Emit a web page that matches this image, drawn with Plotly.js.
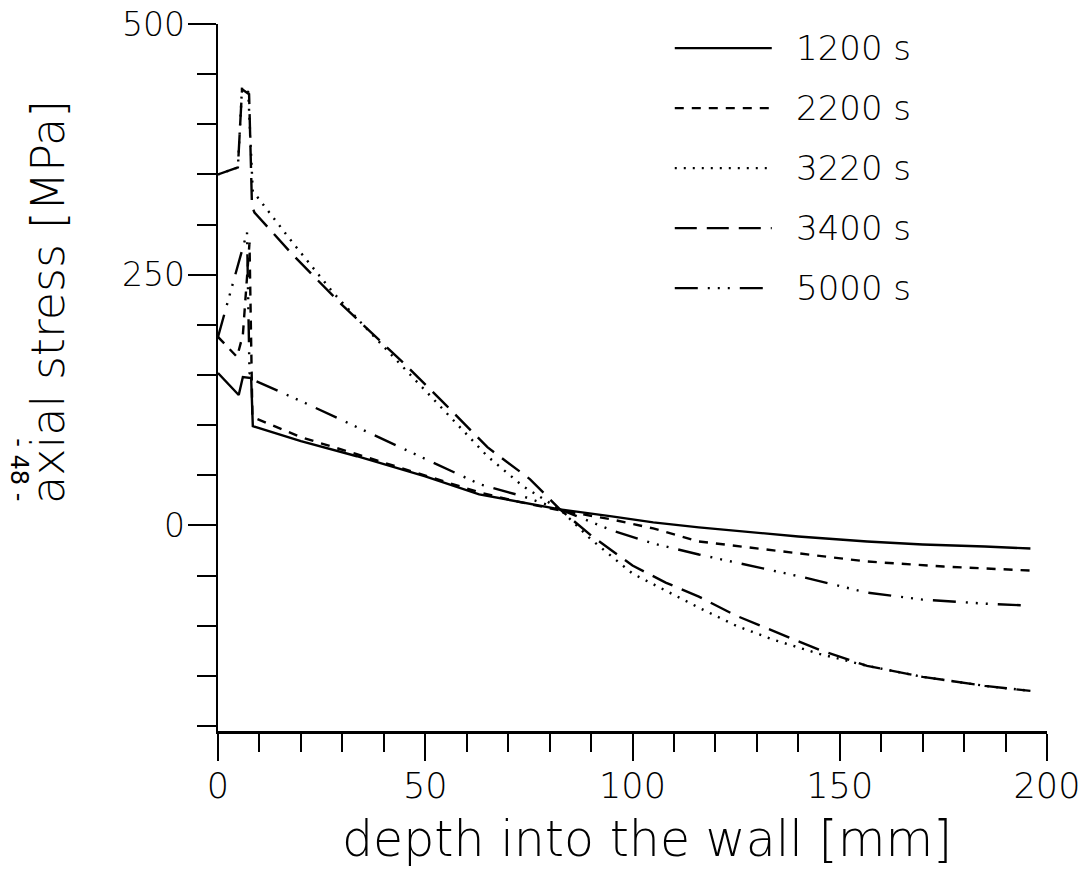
<!DOCTYPE html>
<html>
<head>
<meta charset="utf-8">
<script src="https://cdn.plot.ly/plotly-3.0.1.min.js"></script>
<style>html,body{margin:0;padding:0;background:#fff;}#chart{width:1080px;height:882px;}</style>
</head>
<body>
<div id="chart"></div>
<script>
// ---- data ----
const seriesNames = ["1200 s", "2200 s", "3220 s", "3400 s", "5000 s"];

const x1200 = [0, 5, 6, 8, 8.4, 20, 33.5, 50, 63, 72, 82.5, 95, 105, 116, 126, 140, 156.6, 170, 185, 196];
const y1200 = [152, 130, 148, 147, 99, 84, 69, 49, 31, 24, 16, 9, 3, -2, -6, -11, -16, -19, -21, -23];

const x2200 = [0, 4.6, 6, 7.6, 8.3, 20, 33.5, 50, 63, 72, 82.5, 95, 105, 116, 126, 140, 156.6, 175, 196];
const y2200 = [188, 168, 190, 282, 108, 88, 71, 50, 33, 24, 15, 6, -3, -16, -21, -28, -36, -41, -45];

const x3220 = [0, 4.8, 5.8, 7.3, 8.4, 9.4, 18, 27.8, 35, 45, 55, 65, 73.6, 82.5, 90, 100, 108, 116, 125, 134, 145, 156.6, 170, 185, 196];
const y3220 = [350, 357, 437, 432, 332, 328, 282, 232, 200, 156, 112, 69, 39, 16, -14, -48, -65, -82, -100, -114, -128, -140, -151, -160, -165];

const x3400 = [0, 4.8, 5.8, 7.5, 8.2, 8.8, 18, 29.4, 35, 45, 55, 65, 75.3, 82.5, 90, 100, 108, 116, 125, 135, 145, 156.6, 170, 185, 196];
const y3400 = [350, 357, 435, 430, 318, 312, 270, 222, 200, 161, 120, 78, 46, 16, -10, -40, -57, -71, -90, -107, -124, -140, -151, -160, -165];

const x5000 = [0, 7, 7.6, 8.6, 20, 31, 45, 55, 63.2, 73.6, 82.5, 95, 105, 116, 128, 140.5, 156.6, 170, 185, 196];
const y5000 = [188, 292, 152, 145, 124, 103, 76, 57, 41, 29, 16, -5, -18, -29, -40, -51, -67, -74, -78, -80];

const xData = [x1200, x2200, x3220, x3400, x5000];
const yData = [y1200, y2200, y3220, y3400, y5000];
const dashes = ["solid", "9px,8px", "2px,7px", "22px,10px", "23px,10px,2px,8px,2px,8px,2px,10px"];

const xTitle = "depth into the wall [mm]";
const yTitle = "axial stress [MPa]";
const pageMark = "- 48 -";

// ---- figure ----
const FONT = "DejaVu Sans, Liberation Sans, sans-serif";
const traces = seriesNames.map((n, i) => ({
  type: "scatter", mode: "lines", name: n,
  x: xData[i], y: yData[i],
  line: {color: "#000", width: 2.4, dash: dashes[i]},
  showlegend: false, hoverinfo: "skip"
}));

// custom legend (long line samples as in the original)
const shapes = [];
const annotations = [];
const legTop = 0.966, legStep = 0.0849;
seriesNames.forEach((n, i) => {
  const yy = legTop - i * legStep;
  shapes.push({type: "line", xref: "paper", yref: "paper", x0: 0.551, x1: 0.668, y0: yy, y1: yy,
               line: {color: "#000", width: 2.2, dash: dashes[i]}});
  annotations.push({xref: "paper", yref: "paper", x: 0.695, y: yy, xanchor: "left", yanchor: "middle",
                    text: n, showarrow: false, font: {family: FONT, size: 34, color: "#000", weight: 300}});
});
// axis titles (placed as in the original, y title is not centred on the axis)
annotations.push({xref: "paper", yref: "paper", x: -0.205, y: 0.607, xanchor: "center", yanchor: "middle",
                  text: yTitle, textangle: -90, showarrow: false,
                  font: {family: FONT, size: 46, color: "#000", weight: 300}});
annotations.push({xref: "paper", yref: "paper", x: 0.5175, y: -0.153, xanchor: "center", yanchor: "middle",
                  text: xTitle, showarrow: false,
                  font: {family: FONT, size: 49, color: "#000", weight: 300}});
annotations.push({xref: "paper", yref: "paper", x: -0.241, y: 0.37, xanchor: "center", yanchor: "middle",
                  text: pageMark, textangle: 90,
                  showarrow: false, font: {family: FONT, size: 24, color: "#000"}});

const layout = {
  width: 1080, height: 882,
  margin: {l: 218, r: 33, t: 24, b: 151},
  paper_bgcolor: "#fff", plot_bgcolor: "#fff",
  showlegend: false,
  font: {family: FONT, color: "#000"},
  xaxis: {
    range: [0, 200], tickmode: "linear", tick0: 0, dtick: 50,
    ticks: "outside", ticklen: 27, tickwidth: 2, tickcolor: "#000",
    minor: {dtick: 10, tick0: 0, ticks: "outside", ticklen: 18, tickwidth: 2, tickcolor: "#000"},
    showline: true, linewidth: 2.5, linecolor: "#000",
    showgrid: false, zeroline: false,
    tickfont: {family: FONT, size: 35, weight: 300},
    ticklabelstandoff: -5, ticklabeloverflow: "allow",
    automargin: false
  },
  yaxis: {
    range: [-205, 500], tickmode: "linear", tick0: 0, dtick: 250,
    ticks: "outside", ticklen: 28, tickwidth: 2, tickcolor: "#000",
    minor: {dtick: 50, tick0: 0, ticks: "outside", ticklen: 19, tickwidth: 2, tickcolor: "#000"},
    showline: true, linewidth: 2.5, linecolor: "#000",
    showgrid: false, zeroline: false,
    tickfont: {family: FONT, size: 33, weight: 300},
    ticklabelstandoff: -4, ticklabeloverflow: "allow",
    automargin: false
  },
  shapes: shapes,
  annotations: annotations
};

Plotly.newPlot("chart", traces, layout, {displayModeBar: false, staticPlot: true});
</script>
</body>
</html>
